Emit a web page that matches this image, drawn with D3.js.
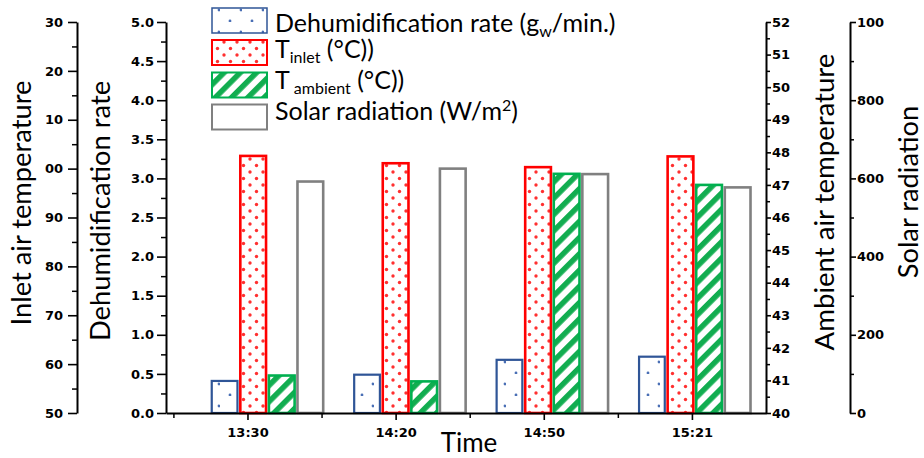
<!DOCTYPE html>
<html>
<head>
<meta charset="utf-8">
<script src="https://cdn.jsdelivr.net/npm/d3@7"></script>
<style>
body{margin:0;background:#fff}
svg{display:block}
.tk text{font-family:"DejaVu Sans",sans-serif;font-weight:bold;font-size:13px;fill:#000}
.tk path,.tk line{stroke:#000}
.ttl{font-family:Lato,sans-serif;fill:#000}
</style>
</head>
<body>
<svg width="924" height="458"></svg>
<script>
// values
var times = ["13:30","14:20","14:50","15:21"]
var dehumRate = [0.41,0.49,0.68,0.72]
var inletTemp = [102.6,101.1,100.3,102.5]
var ambientTemp = [41.15,40.97,47.34,47.0]
var solarRad = [592,625,611,577]

var inletTicks = [50,60,70,80,90,100,110,120,130]
var inletTickLabels = ["50","60","70","80","90","00","10","20","30"]
var dehumTicks = [0,0.5,1,1.5,2,2.5,3,3.5,4,4.5,5]
var ambientTicks = [40,41,42,43,44,45,46,47,48,49,50,51,52]
var solarTicks = [0,200,400,600,800,1000]
var solarTickLabels = ["0","200","400","600","800","100"]
var timeTicks = [1,2,3,4]

var svg = d3.select("svg")
var yTop = 22, base = 413

var yDehum = d3.scaleLinear().domain([0,5]).range([base,yTop])
var yInlet = d3.scaleLinear().domain([50,130]).range([base,yTop])
var yAmb = d3.scaleLinear().domain([40,52]).range([base,yTop])
var ySolar = d3.scaleLinear().domain([0,1000]).range([base,yTop])

var xTick = d3.scaleLinear().domain([0.45,4.5]).range([166,766])
var xGroup = d3.scaleBand().domain(times).range([196.25,766]).paddingInner(0.2).paddingOuter(0.1)
var keys = ["dehum","inlet","ambient","solar"]
var xSeries = d3.scaleBand().domain(keys).range([1.25,xGroup.bandwidth()-1.25]).paddingInner(0.1)

// fill patterns
var defs = svg.append("defs")
var pb = defs.append("pattern").attr("id","dotsBlue").attr("patternUnits","userSpaceOnUse")
    .attr("width",22).attr("height",22)
pb.append("circle").attr("cx",10).attr("cy",21).attr("r",1.4).attr("fill","#4a6fb5")
pb.append("circle").attr("cx",21).attr("cy",10).attr("r",1.4).attr("fill","#4a6fb5")

var pr = defs.append("pattern").attr("id","dotsRed").attr("patternUnits","userSpaceOnUse")
    .attr("width",13).attr("height",13)
pr.append("circle").attr("cx",3).attr("cy",3).attr("r",1.7).attr("fill","#ff3030")
pr.append("circle").attr("cx",9.5).attr("cy",9.5).attr("r",1.7).attr("fill","#ff3030")

var pg = defs.append("pattern").attr("id","stripeGreen").attr("patternUnits","userSpaceOnUse")
    .attr("width",11.5).attr("height",11.5).attr("patternTransform","rotate(45)")
pg.append("rect").attr("x",0).attr("y",0).attr("width",5.5).attr("height",11.5).attr("fill","#12ad50")

var series = [
  {key:"dehum", values:dehumRate, y:yDehum, stroke:"#2f5597", sw:2.2, fill:"url(#dotsBlue)"},
  {key:"inlet", values:inletTemp, y:yInlet, stroke:"#ff0000", sw:2.6, fill:"url(#dotsRed)"},
  {key:"ambient", values:ambientTemp, y:yAmb, stroke:"#00b050", sw:2.6, fill:"url(#stripeGreen)"},
  {key:"solar", values:solarRad, y:ySolar, stroke:"#808080", sw:2.6, fill:"#fff"}
]

// bars
series.forEach(function(s){
  svg.append("g")
    .selectAll("rect")
    .data(s.values)
    .enter()
    .append("rect")
    .attr("x",function(d,i){return xGroup(times[i])+xSeries(s.key)})
    .attr("y",function(d){return s.y(d)})
    .attr("width",xSeries.bandwidth())
    .attr("height",function(d){return base-s.y(d)})
    .attr("fill",s.fill)
    .attr("stroke",s.stroke)
    .attr("stroke-width",s.sw)
})

var mids = function(arr){
  var out = []
  for (var i=0;i<arr.length-1;i++) out.push((arr[i]+arr[i+1])/2)
  return out
}

var drawAxis = function(x, y, makeGen, major, labels, minor, bigTick, smallTick, pad){
  var g = svg.append("g").attr("class","tk").attr("transform","translate("+x+","+y+")")
  g.append("g").call(makeGen().tickValues(minor).tickFormat("").tickSize(smallTick).tickSizeOuter(0))
    .call(function(a){a.select(".domain").remove()})
    .selectAll("line").attr("stroke-width",1.5)
  var m = g.append("g").call(makeGen().tickValues(major)
      .tickFormat(function(d,i){return labels ? labels[i] : d})
      .tickSize(bigTick).tickSizeOuter(0).tickPadding(pad))
  m.select(".domain").attr("stroke-width",2)
  m.selectAll("line").attr("stroke-width",1.6)
  return m
}

drawAxis(77,0,function(){return d3.axisLeft(yInlet)},inletTicks,inletTickLabels,mids(inletTicks),9,5,5)
drawAxis(166,0,function(){return d3.axisLeft(yDehum)},dehumTicks,dehumTicks.map(d3.format(".1f")),mids(dehumTicks),9,5,3)
drawAxis(766,0,function(){return d3.axisRight(yAmb)},ambientTicks,null,mids(ambientTicks),5,4,1)
drawAxis(850,0,function(){return d3.axisRight(ySolar)},solarTicks,solarTickLabels,mids(solarTicks),6,4,1)
drawAxis(0,base,function(){return d3.axisBottom(xTick)},timeTicks,times,[0.5,1.5,2.5,3.5],7,5,8)

// axis titles
var vTitle = function(text,x,y,size){
  svg.append("text").attr("class","ttl")
    .attr("transform","translate("+x+","+y+") rotate(-90)")
    .attr("text-anchor","middle")
    .style("font-size",size+"px")
    .text(text)
}
vTitle("Inlet air temperature",31,203,27.3)
vTitle("Dehumidification rate",110,211,27.3)
vTitle("Ambient air temperature",834,202,27.6)
vTitle("Solar radiation",918,192,27.3)

svg.append("text").attr("class","ttl")
  .attr("x",469).attr("y",452)
  .attr("text-anchor","middle")
  .style("font-size","26px")
  .text("Time")

// legend: [text, dy, small]
var legendItems = [
  [["Dehumidification rate (g",0,0],["w",5,1],["/min.)",-5,0]],
  [["T",0,0],["inlet",5,1],[" (°C))",-5,0]],
  [["T",0,0],[" ambient",5,1],[" (°C))",-5,0]],
  [["Solar radiation (W/m",0,0],["2",-9,1],[")",9,0]]
]
var legendRowsY = [8,40,72.5,104.5]
var legendTextY = [32,57.5,89,119.5]
var leg = svg.append("g")
legendItems.forEach(function(parts,i){
  var s = series[i]
  leg.append("rect")
    .attr("x",212).attr("y",legendRowsY[i])
    .attr("width",55).attr("height",25)
    .attr("fill",s.fill).attr("stroke",s.stroke).attr("stroke-width",i==0?1.5:2)
  var t = leg.append("text").attr("class","ttl")
    .attr("x",275).attr("y",legendTextY[i])
    .style("font-size","25px")
  parts.forEach(function(p){
    var ts = t.append("tspan").text(p[0]).attr("dy",p[1])
    if (p[2]) ts.style("font-size","16px")
  })
})
</script>
</body>
</html>
